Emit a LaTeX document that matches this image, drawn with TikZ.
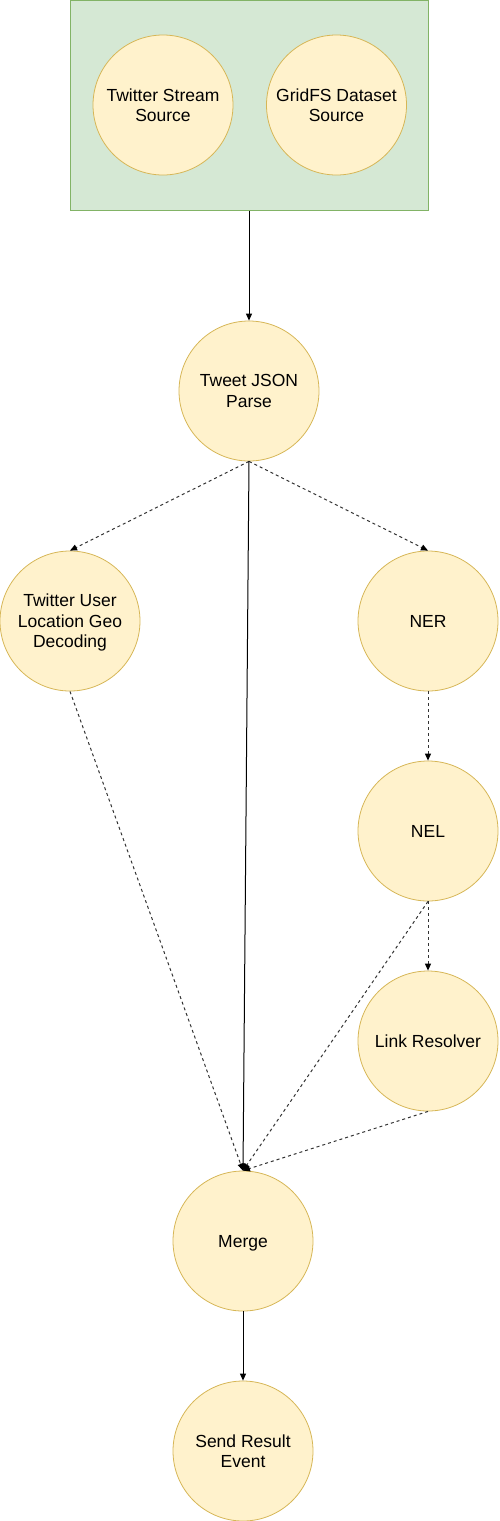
\documentclass[tikz,border=0pt]{standalone}
\usepackage{fontspec}
\setmainfont{Liberation Sans}
\usetikzlibrary{arrows.meta}
\definecolor{boxfill}{HTML}{D5E8D4}
\definecolor{boxline}{HTML}{82B366}
\definecolor{cfill}{HTML}{FFF2CC}
\definecolor{cline}{HTML}{D6B656}
\definecolor{dashc}{HTML}{333333}
\begin{document}
\begin{tikzpicture}[x=1pt,y=-1pt,
  proc/.style={circle,minimum size=140pt,inner sep=0pt,fill=cfill,draw=cline,line width=0.8pt,align=center,
    font=\fontsize{17.5}{20.5}\selectfont,text depth=0pt},
  flow/.style={-{Triangle[length=7pt,width=6pt]},line width=1pt,black},
  dflow/.style={-{Triangle[length=7pt,width=6pt,fill=black,color=black]},line width=1pt,dashc,dash pattern=on 3pt off 3pt}]
\useasboundingbox (0,0) rectangle (499,1521);
\node[rectangle,minimum width=358pt,minimum height=210pt,inner sep=0pt,fill=boxfill,draw=boxline,line width=1pt] (src) at (249,105) {};
\node[proc] (tss) at (163,105) {Twitter Stream\\Source};
\node[proc] (gds) at (336.5,105) {GridFS Dataset\\Source};
\node[proc] (tjp) at (249,391) {Tweet JSON\\Parse};
\node[proc] (tul) at (70,621) {Twitter User\\Location Geo\\Decoding};
\node[proc] (ner) at (428,621) {NER};
\node[proc] (nel) at (428,831) {NEL};
\node[proc] (lr) at (428,1041) {Link Resolver};
\node[proc] (mrg) at (243,1241) {Merge};
\node[proc] (sre) at (243,1451) {Send Result\\Event};
\draw[flow] (src.south) -- (tjp.north);
\draw[dflow] (tjp.south) -- (tul.north);
\draw[dflow] (tjp.south) -- (ner.north);
\draw[flow] (tjp.south) -- (mrg.north);
\draw[dflow] (tul.south) -- (mrg.north);
\draw[dflow] (ner.south) -- (nel.north);
\draw[dflow] (nel.south) -- (lr.north);
\draw[dflow] (nel.south) -- (mrg.north);
\draw[dflow] (lr.south) -- (mrg.north);
\draw[flow] (mrg.south) -- (sre.north);
\end{tikzpicture}
\end{document}
